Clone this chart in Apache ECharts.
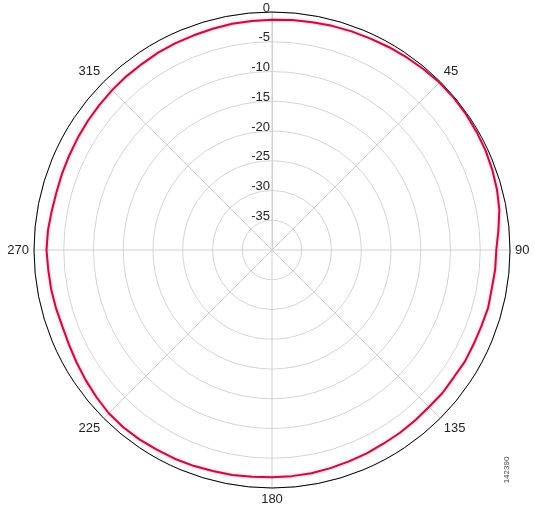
<!DOCTYPE html>
<html>
<head>
<meta charset="utf-8">
<script src="https://cdn.jsdelivr.net/npm/echarts@6/dist/echarts.min.js"></script>
<style>html,body{margin:0;padding:0;background:#fff;}#c{width:535px;height:506px;}</style>
</head>
<body>
<div id="c"></div>
<script>
var angles = [0,5,10,15,20,25,30,35,40,45,50,55,60,65,70,75,80,85,90,95,100,105,110,115,120,125,130,135,140,145,150,155,160,165,170,175,180,185,190,195,200,205,210,215,220,225,230,235,240,245,250,255,260,265,270,275,280,285,290,295,300,305,310,315,320,325,330,335,340,345,350,355,360];
var gain = [-1.3,-1.2,-1.15,-1.0,-0.9,-0.8,-0.65,-0.5,-0.35,-0.2,-0.15,-0.2,-0.3,-0.4,-0.6,-0.85,-1.2,-1.8,-2.3,-2.35,-2.5,-2.4,-2.55,-2.6,-2.55,-2.7,-2.6,-2.7,-2.6,-2.5,-2.45,-2.3,-2.2,-2.05,-1.9,-1.85,-1.8,-1.75,-1.6,-1.55,-1.4,-1.3,-1.25,-1.15,-1.1,-1.2,-1.5,-1.8,-2.1,-2.35,-2.5,-2.4,-2.3,-2.25,-2.1,-2.2,-2.4,-2.5,-2.45,-2.4,-2.3,-2.2,-2.1,-2.0,-1.9,-1.85,-1.7,-1.65,-1.6,-1.5,-1.4,-1.35,-1.3];
var radiusTicks = [-40,-35,-30,-25,-20,-15,-10,-5,0];
var angleTicks = [0,45,90,135,180,225,270,315];
var figureId = '142390';

var data = angles.map(function(a,i){ return [gain[i], a]; });
var chart = echarts.init(document.getElementById('c'));
chart.setOption({
  animation: false,
  polar: { center: [272, 250], radius: 238 },
  angleAxis: {
    type: 'value', min: 0, max: 360, interval: 45, startAngle: 90, clockwise: true,
    axisLine: { show: true, lineStyle: { color: '#000', width: 1 } },
    axisTick: { show: false },
    axisLabel: { margin: 5, color: '#222', fontSize: 13, fontFamily: 'Liberation Sans, Arial, sans-serif',
      formatter: function(v){ return (v === 0 || v === 360) ? '' : String(v); } },
    splitLine: { show: true, lineStyle: { color: '#cfcfcf', width: 1 } }
  },
  radiusAxis: {
    type: 'value', min: radiusTicks[0], max: radiusTicks[radiusTicks.length-1], interval: 5,
    axisLine: { show: true, lineStyle: { color: '#cfcfcf', width: 1 } },
    axisTick: { show: false },
    axisLabel: { margin: 2, color: '#222', fontSize: 13, lineHeight: 8, fontFamily: 'Liberation Sans, Arial, sans-serif',
      align: 'right', verticalAlign: 'bottom',
      formatter: function(v){ return v === -40 ? '' : String(v); } },
    splitLine: { show: true, lineStyle: { color: '#d4d4d4', width: 1 } }
  },
  series: [{
    type: 'line', coordinateSystem: 'polar', data: data, showSymbol: false, smooth: false,
    lineStyle: { color: '#c0123f', width: 2, shadowColor: 'rgba(255,90,150,0.6)', shadowBlur: 3 },
    z: 5
  }],
  graphic: [{
    type: 'text', x: 507, y: 470, rotation: Math.PI/2,
    style: { text: figureId, fill: '#444', fontSize: 8, fontFamily: 'Liberation Sans, Arial, sans-serif', align: 'center', verticalAlign: 'middle' }
  }]
});
</script>
</body>
</html>
